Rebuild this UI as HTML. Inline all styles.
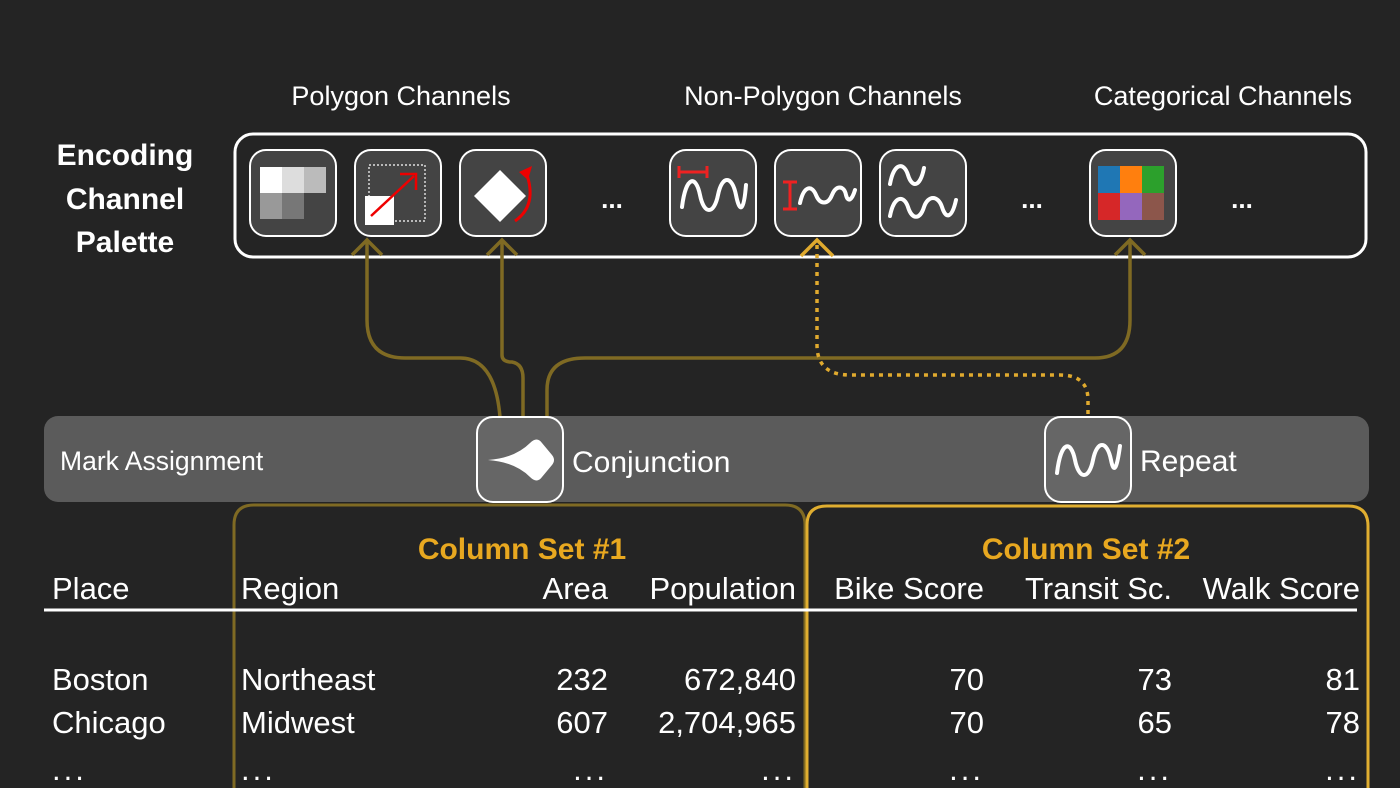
<!DOCTYPE html>
<html><head><meta charset="utf-8"><style>
html,body{margin:0;padding:0;background:#242424;}
svg{display:block}
text{font-family:"Liberation Sans",sans-serif;}
</style></head><body>
<svg width="1400" height="788" viewBox="0 0 1400 788" xmlns="http://www.w3.org/2000/svg">
<rect width="1400" height="788" fill="#242424"/>
<!-- headers -->
<g fill="#fff" font-size="27" text-anchor="middle">
<text x="401" y="105">Polygon Channels</text>
<text x="823" y="105">Non-Polygon Channels</text>
<text x="1223" y="105">Categorical Channels</text>
</g>
<g fill="#fff" font-size="30" font-weight="bold" text-anchor="middle">
<text x="125" y="165">Encoding</text>
<text x="125" y="209">Channel</text>
<text x="125" y="252">Palette</text>
</g>
<rect x="235" y="134" width="1131" height="123" rx="18" fill="none" stroke="#fff" stroke-width="3"/>
<!-- icons -->
<g fill="#444" stroke="#fff" stroke-width="2">
<rect x="250" y="150" width="86" height="86" rx="16"/>
<rect x="355" y="150" width="86" height="86" rx="16"/>
<rect x="460" y="150" width="86" height="86" rx="16"/>
<rect x="670" y="150" width="86" height="86" rx="16"/>
<rect x="775" y="150" width="86" height="86" rx="16"/>
<rect x="880" y="150" width="86" height="86" rx="16"/>
<rect x="1090" y="150" width="86" height="86" rx="16"/>
</g>
<!-- icon 1 -->
<rect x="260" y="167" width="22" height="26" fill="#fff"/>
<rect x="282" y="167" width="22" height="26" fill="#ddd"/>
<rect x="304" y="167" width="22" height="26" fill="#bbb"/>
<rect x="260" y="193" width="22" height="26" fill="#999"/>
<rect x="282" y="193" width="22" height="26" fill="#777"/>
<!-- icon 2 -->
<rect x="369" y="165" width="56" height="56" fill="none" stroke="#fff" stroke-width="1.2" stroke-dasharray="2,2"/>
<rect x="365" y="196" width="29" height="29" fill="#fff"/>
<line x1="371" y1="216" x2="414" y2="176" stroke="#e00" stroke-width="2.5"/>
<polyline points="400,174 416,174 416,190" fill="none" stroke="#e00" stroke-width="2.5"/>
<!-- icon 3 -->
<polygon points="500,170 526,196 500,222 474,196" fill="#fff"/>
<path d="M515 221 Q538 205 526 172" fill="none" stroke="#e00" stroke-width="3"/>
<polygon points="519,172 532,166 528,180" fill="#e00"/>
<!-- dots -->
<g fill="#fff" font-size="26" font-weight="bold" text-anchor="middle">
<text x="612" y="208">...</text><text x="1032" y="208">...</text><text x="1242" y="208">...</text>
</g>
<!-- icon 4 -->
<path d="M679 172 H707 M679 166 V178 M707 166 V178" stroke="#e22" stroke-width="3" fill="none"/>
<path d="M682 207 C686 175 696 175 700 195 C704 215 714 215 718 195 C722 175 732 175 736 195 C740 215 744 210 746 185" stroke="#fff" stroke-width="4" fill="none" stroke-linecap="round"/>
<!-- icon 5 -->
<path d="M783 182 H797 M790 182 V209 M783 209 H797" stroke="#e22" stroke-width="3" fill="none"/>
<path d="M800 203 C804 185 812 185 816 195 C820 205 828 205 832 195 C836 185 844 185 846 195 C848 203 852 200 855 190" stroke="#fff" stroke-width="4" fill="none" stroke-linecap="round"/>
<!-- icon 6 -->
<path d="M890 184 C894 162 904 162 908 175 C912 188 920 188 924 168" stroke="#fff" stroke-width="4" fill="none" stroke-linecap="round"/>
<path d="M890 216 C894 195 904 195 908 207 C912 220 920 220 924 207 C928 195 938 195 942 207 C946 220 952 218 956 200" stroke="#fff" stroke-width="4" fill="none" stroke-linecap="round"/>
<!-- icon 7 -->
<rect x="1098" y="166" width="22" height="27" fill="#1f77b4"/>
<rect x="1120" y="166" width="22" height="27" fill="#ff7f0e"/>
<rect x="1142" y="166" width="22" height="27" fill="#2ca02c"/>
<rect x="1098" y="193" width="22" height="27" fill="#d62728"/>
<rect x="1120" y="193" width="22" height="27" fill="#9467bd"/>
<rect x="1142" y="193" width="22" height="27" fill="#8c564b"/>
<!-- mark bar -->
<rect x="44" y="416" width="1325" height="86" rx="14" fill="#5b5b5b"/>
<!-- connectors -->
<g fill="none" stroke="#7f6a23" stroke-width="3.5">
<path d="M367 242 V320 Q367 358 405 358 H460 Q495 358 500 417"/>
<path d="M502 242 V355 Q502 362 512 362 Q523 364 523 378 V417"/>
<path d="M547 417 V390 Q547 358 585 358 H1095 Q1130 358 1130 320 V242"/>
<path d="M352 255 L367 240 L382 255 M487 255 L502 240 L517 255 M1115 255 L1130 240 L1145 255"/>
</g>
<g fill="none" stroke="#e0aa2e" stroke-width="3.5">
<path d="M1088 414 V400 Q1088 375 1060 375 H850 Q817 375 817 345 V245" stroke-dasharray="4,5"/>
<path d="M801 256 L817 240 L833 256"/>
</g>
<!-- bar icons -->
<rect x="477" y="417" width="86" height="85" rx="16" fill="#666" stroke="#fff" stroke-width="2"/>
<path d="M488 460 Q515 458 530 443 Q537 436 542 443 L552 455 Q556 460 552 465 L542 477 Q537 484 530 477 Q515 462 488 460 Z" fill="#fff"/>
<rect x="1045" y="417" width="86" height="85" rx="16" fill="#666" stroke="#fff" stroke-width="2"/>
<path d="M1057 473 C1061 440 1071 440 1075 460 C1079 480 1089 480 1093 460 C1097 440 1107 440 1111 460 C1114 475 1117 468 1120 446" stroke="#fff" stroke-width="4" fill="none" stroke-linecap="round"/>
<g fill="#fff" font-size="30">
<text x="572" y="472">Conjunction</text>
<text x="1140" y="471">Repeat</text>
</g>
<text x="60" y="470" fill="#fff" font-size="26.5">Mark Assignment</text>
<!-- column sets -->
<path d="M234 788 V525 Q234 505 254 505 H785 Q805 505 805 525 V788" fill="none" stroke="#7f6a23" stroke-width="3"/>
<path d="M807 788 V525 Q807 506 827 506 H1348 Q1368 506 1368 526 V788" fill="none" stroke="#e0ae30" stroke-width="3"/>
<g fill="#e8a820" font-size="30" font-weight="bold" text-anchor="middle">
<text x="522" y="559">Column Set #1</text>
<text x="1086" y="559">Column Set #2</text>
</g>
<line x1="44" y1="610" x2="1357" y2="610" stroke="#fff" stroke-width="3"/>
<g fill="#fff" font-size="31">
<text x="52" y="599">Place</text>
<text x="241" y="599">Region</text>
<text x="52" y="690">Boston</text>
<text x="241" y="690">Northeast</text>
<text x="52" y="733">Chicago</text>
<text x="241" y="733">Midwest</text>
<text x="52" y="780" letter-spacing="3">...</text>
<text x="241" y="780" letter-spacing="3">...</text>
</g>
<g fill="#fff" font-size="31" text-anchor="end">
<text x="608" y="599">Area</text>
<text x="796" y="599">Population</text>
<text x="984" y="599">Bike Score</text>
<text x="1172" y="599">Transit Sc.</text>
<text x="1360" y="599">Walk Score</text>
<text x="608" y="690">232</text><text x="796" y="690">672,840</text><text x="984" y="690">70</text><text x="1172" y="690">73</text><text x="1360" y="690">81</text>
<text x="608" y="733">607</text><text x="796" y="733">2,704,965</text><text x="984" y="733">70</text><text x="1172" y="733">65</text><text x="1360" y="733">78</text>
</g>
<g fill="#fff" font-size="31" text-anchor="end" letter-spacing="3">
<text x="608" y="780">...</text><text x="796" y="780">...</text><text x="984" y="780">...</text><text x="1172" y="780">...</text><text x="1360" y="780">...</text>
</g>
</svg>
</body></html>
